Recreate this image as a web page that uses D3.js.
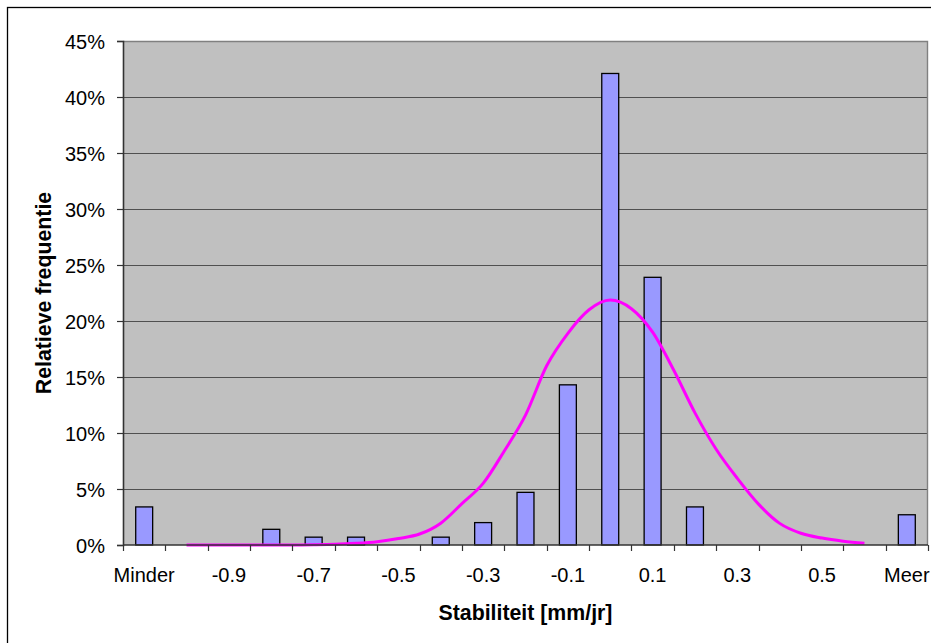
<!DOCTYPE html>
<html>
<head>
<meta charset="utf-8">
<script src="https://cdn.jsdelivr.net/npm/d3@7/dist/d3.min.js"></script>
<style>
  html, body { margin: 0; padding: 0; background: #fff; }
  svg { display: block; }
  text { font-family: "Liberation Sans", Arial, sans-serif; fill: #000; }
</style>
</head>
<body>
<script>
// ---- Data ----
const categories = ["Minder","-1.0","-0.9","-0.8","-0.7","-0.6","-0.5","-0.4","-0.3","-0.2","-0.1","0.0","0.1","0.2","0.3","0.4","0.5","0.6","Meer"];
const tickLabels = ["Minder","-0.9","-0.7","-0.5","-0.3","-0.1","0.1","0.3","0.5","Meer"];
const frequency = [3.4, 0, 0, 1.4, 0.7, 0.7, 0, 0.7, 2.0, 4.7, 14.3, 42.1, 23.9, 3.4, 0, 0, 0, 0, 2.7]; // %
const curveX = [-1.0,-0.95,-0.9,-0.85,-0.8,-0.75,-0.7,-0.65,-0.6,-0.55,-0.5,-0.45,-0.4,-0.35,-0.3,-0.25,-0.2,-0.15,-0.1,-0.05,0.0,0.05,0.1,0.15,0.2,0.25,0.3,0.35,0.4,0.45,0.5,0.55,0.6];
const curveY = [0,0,0,0,0,0,0.02,0.06,0.15,0.3,0.58,0.98,1.95,3.7,5.5,8.4,11.6,16.0,18.9,21.0,21.87,21.1,19.0,15.6,11.8,8.55,5.95,3.65,1.93,1.05,0.62,0.34,0.15]; // %
const yTicks = [0,5,10,15,20,25,30,35,40,45];

// ---- Layout ----
const W = 931, H = 643;
const plot = { left: 123, right: 928, top: 41, bottom: 545 };

const svg = d3.select("body").append("svg").attr("width", W).attr("height", H);

// outer chart border
svg.append("rect").attr("x", 7.5).attr("y", 7.5).attr("width", W + 20).attr("height", H + 20)
  .attr("fill", "#fff").attr("stroke", "#000").attr("stroke-width", 1.3);

const x = d3.scaleBand().domain(categories).range([plot.left, plot.right])
  .paddingInner(0.6).paddingOuter(0.3);
const step = x.step();
const slotLeft = c => plot.left + categories.indexOf(c) * step;
const center = c => x(c) + x.bandwidth() / 2;
const y = d3.scaleLinear().domain([0, 45]).range([plot.bottom, plot.top]);
const xc = d3.scaleLinear().domain([-1.0, 0.6]).range([center("-1.0"), center("0.6")]);

// plot area background
svg.append("rect").attr("x", plot.left).attr("y", plot.top)
  .attr("width", plot.right - plot.left).attr("height", plot.bottom - plot.top)
  .attr("fill", "#C0C0C0");

// gridlines
svg.append("g").selectAll("line").data(yTicks.filter(t => t > 0 && t < 45)).join("line")
  .attr("x1", plot.left).attr("x2", plot.right)
  .attr("y1", d => Math.round(y(d)) + 0.5).attr("y2", d => Math.round(y(d)) + 0.5)
  .attr("stroke", "#505050").attr("stroke-width", 1);

// plot border top/right
svg.append("path")
  .attr("d", `M${plot.left},${plot.top + 0.5}H${plot.right - 0.5}V${plot.bottom}`)
  .attr("fill", "none").attr("stroke", "#808080").attr("stroke-width", 1.4);

// bars
svg.append("g").selectAll("rect").data(categories.map((c, i) => ({ c, v: frequency[i] })).filter(d => d.v > 0))
  .join("rect")
  .attr("x", d => x(d.c)).attr("width", x.bandwidth())
  .attr("y", d => y(d.v)).attr("height", d => y(0) - y(d.v))
  .attr("fill", "#9999FF").attr("stroke", "#000").attr("stroke-width", 1.3);

// normal curve
const line = d3.line().x((d, i) => xc(curveX[i])).y(d => y(d)).curve(d3.curveMonotoneX);
svg.append("path").datum(curveY).attr("d", line)
  .attr("fill", "none").attr("stroke", "#FF00FF").attr("stroke-width", 3);

// y axis
const yAxis = d3.axisLeft(y).tickValues(yTicks).tickFormat(d => d + "%").tickSize(6).tickPadding(12);
const gy = svg.append("g").attr("transform", `translate(${plot.left},0)`).call(yAxis);
gy.select(".domain").attr("stroke", "#333").attr("stroke-width", 1.6);
gy.selectAll(".tick line").attr("stroke", "#333").attr("stroke-width", 1.2);
gy.selectAll(".tick text").attr("font-size", 20).attr("font-family", "Liberation Sans, Arial, sans-serif")
  .attr("fill", "#000").attr("dy", "0.35em");

// x axis: ticks at category boundaries
const boundaries = d3.range(categories.length + 1).map(i => plot.left + i * step);
svg.append("line").attr("x1", plot.left).attr("x2", plot.right)
  .attr("y1", plot.bottom).attr("y2", plot.bottom)
  .attr("stroke", "#333").attr("stroke-width", 1.6);
svg.append("g").selectAll("line").data(boundaries).join("line")
  .attr("x1", d => Math.round(d) + 0.5).attr("x2", d => Math.round(d) + 0.5)
  .attr("y1", plot.bottom).attr("y2", plot.bottom + 6)
  .attr("stroke", "#333").attr("stroke-width", 1.2);
svg.append("g").selectAll("text").data(tickLabels).join("text")
  .attr("x", d => center(d === "Minder" || d === "Meer" ? d : categories.find(c => parseFloat(c) === parseFloat(d))))
  .attr("y", 582)
  .attr("text-anchor", "middle").attr("font-size", 20)
  .text(d => d);

// axis titles
svg.append("text").attr("x", (plot.left + plot.right) / 2).attr("y", 620)
  .attr("text-anchor", "middle").attr("font-size", 21.3).attr("font-weight", "bold")
  .text("Stabiliteit [mm/jr]");
svg.append("text").attr("transform", `translate(50.5,${(plot.top + plot.bottom) / 2}) rotate(-90)`)
  .attr("text-anchor", "middle").attr("font-size", 21.3).attr("font-weight", "bold")
  .text("Relatieve frequentie");
</script>
</body>
</html>
